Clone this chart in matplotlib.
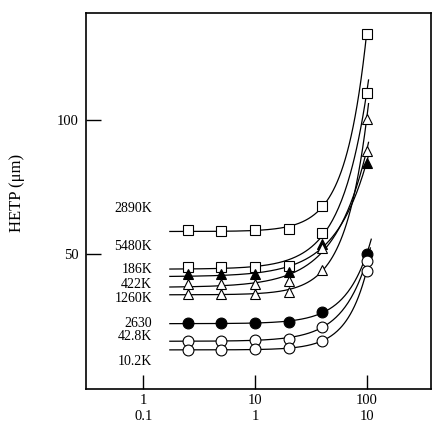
import numpy as np
import matplotlib
matplotlib.use("Agg")
import matplotlib.pyplot as plt

plt.rcParams['font.family'] = ['Liberation Serif', 'DejaVu Serif']

# flow rate positions of the measured points
xFlow = [2.5, 5, 10, 20, 40, 100]

# HETP values (um)
hetp2890K = [59.0, 58.8, 59.0, 59.3, 68.0, 132.2]
hetp5480K = [45.4, 45.3, 45.4, 45.7, 58.0, 110.0]
hetp186K = [42.6, 42.7, 42.8, 43.3, 53.8, 84.2]
hetp422K = [38.8, 38.9, 39.0, 40.0, 52.4, 88.5]
hetp1260K = [35.2, 35.3, 35.4, 36.1, 44.1, 100.3]
hetp2630 = [24.3, 24.4, 24.5, 24.7, 28.4, 50.1]
hetp42K = [17.8, 17.9, 18.0, 18.5, 23.0, 47.6]
hetp10K = [14.4, 14.5, 14.6, 15.0, 17.8, 43.9]

labels = ['2890K', '5480K', '186K', '422K', '1260K', '2630', '42.8K', '10.2K']
labelY = [67.1, 52.8, 44.4, 38.9, 33.6, 24.3, 19.3, 10.0]

series = [
    (hetp2890K, 's', 'white', 100.8),
    (hetp5480K, 's', 'white', 104),
    (hetp186K, '^', 'black', 104),
    (hetp422K, '^', 'white', 104),
    (hetp1260K, '^', 'white', 104),
    (hetp2630, 'o', 'black', 110),
    (hetp42K, 'o', 'white', 108),
    (hetp10K, 'o', 'white', 106),
]


def fitCurve(x, y):
    # H = a + c * x^p, grid over p, least squares for a and c
    x = np.array(x, dtype=float)
    y = np.array(y, dtype=float)
    best = None
    for p in np.linspace(0.5, 4.0, 351):
        A = np.vstack([np.ones_like(x), x ** p]).T
        coef, res, rk, sv = np.linalg.lstsq(A, y, rcond=None)
        err = np.sum((A.dot(coef) - y) ** 2)
        if best is None or err < best[0]:
            best = (err, coef[0], coef[1], p)
    return best[1], best[2], best[3]


fig = plt.figure(figsize=(4.32, 4.25), dpi=100)
ax = fig.add_axes([0.199, 0.0856, 0.7987, 0.8845])

for values, marker, face, xEnd in series:
    a, c, p = fitCurve(xFlow, values)
    xs = np.logspace(np.log10(1.73), np.log10(xEnd), 200)
    ax.plot(xs, a + c * xs ** p, color='black', linewidth=0.9, zorder=2)
    ax.plot(xFlow, values, linestyle='none', marker=marker,
            markerfacecolor=face, markeredgecolor='black',
            markeredgewidth=0.8, markersize=7.8, zorder=3)

for name, yy in zip(labels, labelY):
    ax.text(1.2, yy, name, ha='right', va='center', fontsize=10)

ax.set_xscale('log')
ax.set_xlim(0.307, 377)
ax.set_ylim(0, 140)

ax.set_xticks([1, 10, 100])
ax.set_xticklabels(['1\n0.1', '10\n1', '100\n10'], fontsize=10.5, linespacing=1.25)
ax.xaxis.set_minor_locator(matplotlib.ticker.NullLocator())
ax.set_yticks([50, 100])
ax.set_yticklabels(['50', '100'], fontsize=10.5)

ax.tick_params(axis='x', direction='in', length=10, width=1, pad=4)
ax.tick_params(axis='y', direction='in', length=11, width=1, pad=5)

for sp in ax.spines.values():
    sp.set_linewidth(1.2)

ax.set_ylabel('HETP (\u03bcm)', fontsize=12)
ax.yaxis.set_label_coords(-0.177, 0.52)

fig.savefig('out.png', dpi=100)
